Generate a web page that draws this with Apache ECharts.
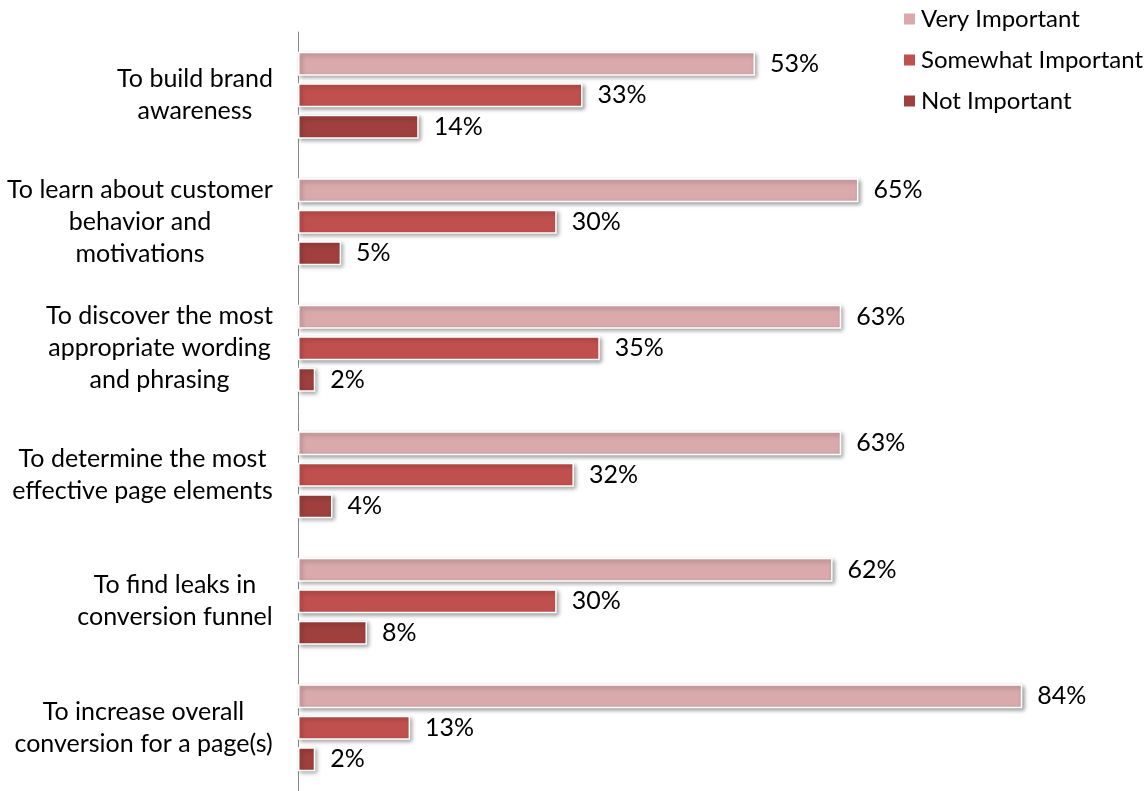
<!DOCTYPE html>
<html>
<head>
<meta charset="utf-8">
<script src="https://cdn.jsdelivr.net/npm/echarts@6/dist/echarts.min.js"></script>
<style>
  html, body { margin: 0; padding: 0; background: #fff; }
  #bar { width: 1148px; height: 791px; }
</style>
</head>
<body>
<div id="bar"></div>
<script>
  const categories = [
    'To build brand\nawareness',
    'To learn about customer\nbehavior and\nmotivations',
    'To discover the most\nappropriate wording\nand phrasing',
    'To determine the most\neffective page elements',
    'To find leaks in\nconversion funnel',
    'To increase overall\nconversion for a page(s)'
  ]
  const seriesNames = ['Very Important', 'Somewhat Important', 'Not Important']
  const veryImportant = [53, 65, 63, 63, 62, 84]
  const somewhatImportant = [33, 30, 35, 32, 30, 13]
  const notImportant = [14, 5, 2, 4, 8, 2]
  const colors = ['#D9A9AB', '#C0504D', '#9F403D']

  const font = 'Lato'
  const fontSize = 25

  // each label line is centred inside a box as wide as the longest line
  const ctx = document.createElement('canvas').getContext('2d')
  ctx.font = fontSize + 'px ' + font
  const rich = {}
  categories.forEach((c, i) => {
    const w = Math.max(...c.split('\n').map(s => ctx.measureText(s).width))
    rich['c' + i] = {
      width: Math.ceil(w), align: 'center',
      fontFamily: font, fontSize: fontSize, lineHeight: 32, color: '#000'
    }
  })

  const barStyle = color => ({
    color: color,
    borderColor: '#fff',
    borderWidth: 1.5,
    shadowColor: 'rgba(0,0,0,0.35)',
    shadowBlur: 4,
    shadowOffsetX: 2,
    shadowOffsetY: 2
  })

  const makeSeries = (name, data, color) => ({
    name: name,
    type: 'bar',
    data: data,
    barWidth: 24,
    barGap: '31%',
    itemStyle: barStyle(color),
    label: {
      show: true,
      position: 'right',
      distance: 15,
      formatter: '{c}%',
      fontFamily: font,
      fontSize: fontSize,
      color: '#000'
    }
  })

  const barChart = echarts.init(document.getElementById('bar'))
  const option = {
    animation: false,
    textStyle: { fontFamily: font },
    legend: {
      orient: 'vertical',
      left: 897,
      top: 2,
      itemWidth: 13,
      itemHeight: 13,
      itemGap: 17,
      icon: 'rect',
      data: seriesNames,
      textStyle: { fontFamily: font, fontSize: 24, color: '#000' }
    },
    grid: { left: 298, right: 74, top: 32, bottom: 0, containLabel: false },
    xAxis: { type: 'value', min: 0, max: 90, show: false },
    yAxis: {
      type: 'category',
      inverse: true,
      data: categories,
      axisLine: { lineStyle: { color: '#868686', width: 1 } },
      axisTick: { show: false },
      axisLabel: {
        margin: 25,
        rich: rich,
        formatter: (v, i) => v.split('\n').map(s => '{c' + i + '|' + s + '}').join('\n')
      }
    },
    series: [
      makeSeries(seriesNames[0], veryImportant, colors[0]),
      makeSeries(seriesNames[1], somewhatImportant, colors[1]),
      makeSeries(seriesNames[2], notImportant, colors[2])
    ]
  }
  barChart.setOption(option)
</script>
</body>
</html>
